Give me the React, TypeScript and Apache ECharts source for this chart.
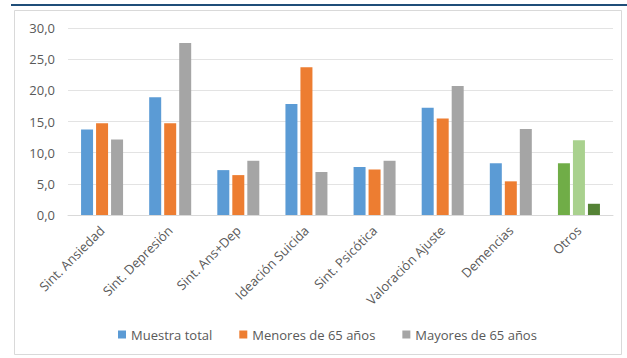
import React, { useEffect, useRef } from "react";
import * as echarts from "echarts";

const categories = [
  "Sint. Ansiedad",
  "Sint. Depresión",
  "Sint. Ans+Dep",
  "Ideación Suicida",
  "Sint. Psicótica",
  "Valoración Ajuste",
  "Demencias",
  "Otros",
];
const seriesNames = ["Muestra total", "Menores de 65 años", "Mayores de 65 años"];
const muestraTotal = [13.7, 18.9, 7.2, 17.8, 7.7, 17.2, 8.3, 8.3];
const menores65 = [14.7, 14.7, 6.4, 23.7, 7.3, 15.5, 5.4, 12.0];
const mayores65 = [12.1, 27.6, 8.7, 6.9, 8.7, 20.7, 13.8, 1.8];
const seriesColors = ["#5b9bd5", "#ed7d31", "#a5a5a5"];
const otrosColors = ["#70ad47", "#a9d18e", "#548235"];
const yTicks = { min: 0, max: 30, interval: 5 };

export default function App() {
  const ref = useRef<HTMLDivElement>(null);
  useEffect(() => {
    if (!ref.current) return;
    const chart = echarts.init(ref.current, null, { renderer: "svg" });
    const allData = [muestraTotal, menores65, mayores65];
    const font = "'Open Sans', 'Noto Sans', sans-serif";
    chart.setOption({
      animation: false,
      textStyle: { fontFamily: font },
      graphic: [
        {
          type: "line",
          shape: { x1: 11, y1: 5, x2: 627, y2: 5 },
          style: { stroke: "#1f4e79", lineWidth: 2 },
        },
        {
          type: "rect",
          shape: { x: 14.5, y: 10.5, width: 607, height: 344 },
          style: { fill: "none", stroke: "#d9d9d9", lineWidth: 1 },
        },
      ],
      legend: {
        data: seriesNames,
        top: 323,
        left: 113,
        itemWidth: 8,
        itemHeight: 8,
        itemGap: 27,
        icon: "rect",
        textStyle: { color: "#595959", fontSize: 13, fontFamily: font },
      },
      grid: { left: 68, right: 14, top: 28, bottom: 143 },
      xAxis: {
        type: "category",
        data: categories,
        axisTick: { show: false },
        axisLine: { lineStyle: { color: "#d9d9d9" } },
        axisLabel: {
          rotate: 45,
          color: "#595959",
          fontSize: 13,
          margin: 13,
          fontFamily: font,
          interval: 0,
        },
      },
      yAxis: {
        type: "value",
        min: yTicks.min,
        max: yTicks.max,
        interval: yTicks.interval,
        axisLine: { show: false },
        axisTick: { show: false },
        splitLine: { lineStyle: { color: "#e3e3e3" } },
        axisLabel: {
          color: "#595959",
          fontSize: 13,
          margin: 13,
          fontFamily: font,
          formatter: (v: number) => v.toFixed(1).replace(".", ","),
        },
      },
      series: seriesNames.map((name, si) => ({
        name,
        type: "bar",
        barWidth: 12,
        barGap: "25%",
        itemStyle: { color: seriesColors[si] },
        data: allData[si].map((v, ci) =>
          ci === categories.length - 1
            ? { value: v, itemStyle: { color: otrosColors[si] } }
            : v
        ),
      })),
    });
    return () => chart.dispose();
  }, []);
  return (
    <div
      ref={ref}
      style={{ position: "fixed", left: 0, top: 0, width: 627, height: 358, background: "#fff" }}
    />
  );
}
